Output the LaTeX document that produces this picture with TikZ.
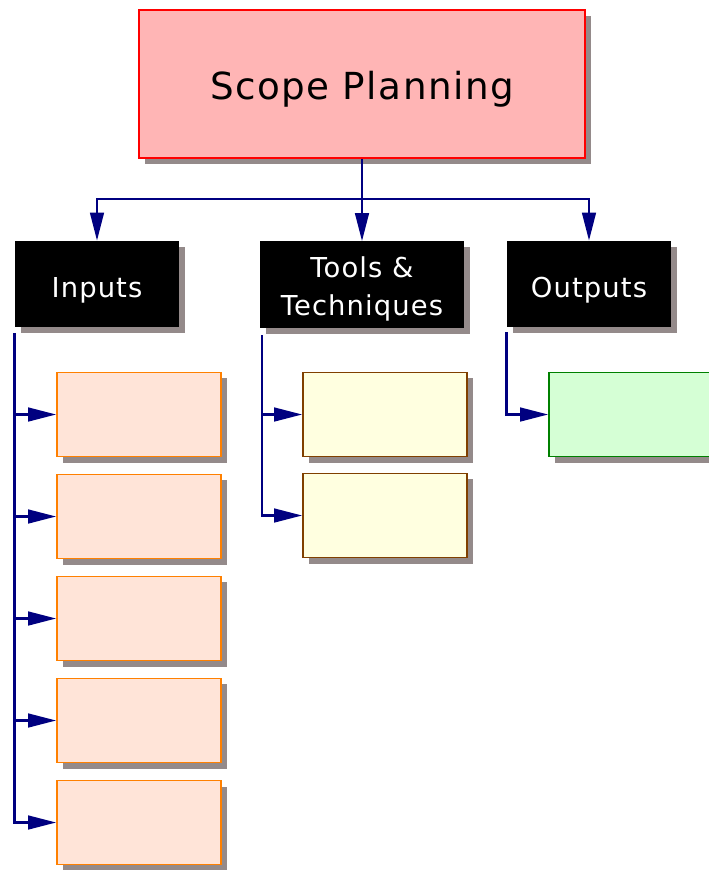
\documentclass[tikz,border=0pt]{standalone}
\usepackage{fontspec}
\setmainfont{DejaVu Sans}[LetterSpace=4]
\usetikzlibrary{arrows.meta,shadows}
\definecolor{topfill}{HTML}{FFB5B5}
\definecolor{shade}{HTML}{948A8A}
\definecolor{navyline}{HTML}{000080}
\definecolor{infill}{HTML}{FFE4D8}
\definecolor{inedge}{HTML}{FF8000}
\definecolor{toolfill}{HTML}{FFFFE0}
\definecolor{tooledge}{HTML}{804000}
\definecolor{outfill}{HTML}{D5FFD5}
\definecolor{outedge}{HTML}{008000}
\tikzset{
  boxshade/.style={drop shadow={shadow xshift=0.15cm,shadow yshift=-0.15cm,fill=shade,opacity=1}},
  titlebox/.style={boxshade,draw=red,fill=topfill,line width=1.1pt,inner sep=0pt,
    minimum width=11.15cm,minimum height=3.7cm,text height=0.75cm,text depth=0pt,
    font=\fontsize{26.5}{32}\selectfont},
  headbox/.style={boxshade,fill=black,text=white,inner sep=0pt,align=center,
    minimum width=4.1cm,minimum height=2.15cm,text height=0.65cm,text depth=0pt,
    font=\fontsize{19.5}{27}\selectfont},
  inbox/.style={boxshade,draw=inedge,fill=infill,line width=1.1pt,minimum width=4.1cm,minimum height=2.1cm},
  toolbox/.style={boxshade,draw=tooledge,fill=toolfill,line width=1.1pt,minimum width=4.1cm,minimum height=2.1cm},
  outbox/.style={boxshade,draw=outedge,fill=outfill,line width=1.1pt,minimum width=4.1cm,minimum height=2.1cm},
  conn/.style={draw=navyline,line width=1.8pt,-{Triangle[length=0.7cm,width=0.34cm]}}
}
\begin{document}
\begin{tikzpicture}[x=0.025cm,y=-0.025cm]
\useasboundingbox (0,0) rectangle (709,870);
\clip (0,0) rectangle (709,870);
\node[titlebox] (top) at (362,84) {Scope Planning};
\node[headbox] (inputs) at (97,284) {Inputs};
\node[headbox,minimum width=5.075cm,text height=1.525cm] (tools) at (362,284.5) {Tools \&\\Techniques};
\node[headbox] (outputs) at (589,284) {Outputs};
\coordinate (bus) at (362,199);
\draw[conn] (top.south) |- (bus) -| (inputs.north);
\draw[conn] (bus) -- (tools.north);
\draw[conn] (bus) -| (outputs.north);
\foreach \i in {1,...,5}
  \node[inbox] (in\i) at (139,{414.5+(\i-1)*102}) {};
\node[toolbox] (tool1) at (385,414.5) {};
\node[toolbox] (tool2) at (385,515.5) {};
\node[outbox] (out1) at (631,414.5) {};
\coordinate (instart) at ([yshift=-0.15cm]inputs.south west);
\coordinate (toolstart) at ([xshift=0.04cm,yshift=-0.18cm]tools.south west);
\coordinate (outstart) at ([yshift=-0.12cm]outputs.south west);
\foreach \i in {1,...,5}
  \draw[conn] (instart) |- (in\i.west);
\draw[conn] (toolstart) |- (tool1.west);
\draw[conn] (toolstart) |- (tool2.west);
\draw[conn] (outstart) |- (out1.west);
\end{tikzpicture}
\end{document}
